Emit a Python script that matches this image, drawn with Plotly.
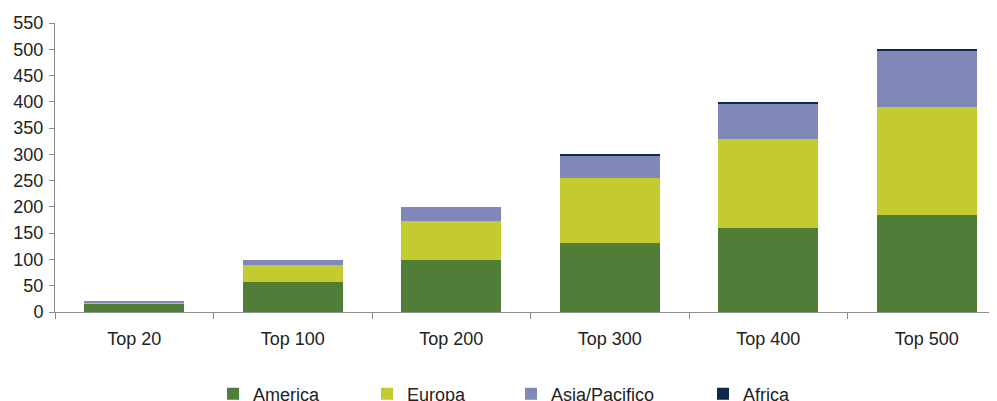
import plotly.graph_objects as go

categories = ["Top 20", "Top 100", "Top 200", "Top 300", "Top 400", "Top 500"]
america = [17, 57, 99, 131, 160, 185]
europa = [1, 32, 74, 124, 170, 205]
asia = [2, 10, 27, 43, 67, 106]
africa = [0, 0, 0, 2, 3, 4]
y_ticks = list(range(0, 551, 50))

series = [
    ("America", america, "#507D38"),
    ("Europa", europa, "#C3CB2F"),
    ("Asia/Pacifico", asia, "#8088BA"),
    ("Africa", africa, "#0E2A4A"),
]

# page body has an 8px margin; figure sized so the plot reaches the window's right edge
OFF = 8
W, H = 997 - OFF, 401 - OFF
legend_text_x = [250, 404, 548, 740]   # window pixels where legend texts start
legend_y = 394                           # window pixel of legend centre

fig = go.Figure()
for i, (name, vals, col) in enumerate(series):
    lg = "legend" if i == 0 else f"legend{i+1}"
    fig.add_trace(go.Bar(
        x=categories, y=vals, name=name, marker=dict(color=col, line=dict(width=0)),
        width=0.63, legend=lg,
    ))

font = dict(family="Liberation Sans, Arial, sans-serif", size=18, color="#222222")
layout_legends = {}
for i, tx in enumerate(legend_text_x):
    key = "legend" if i == 0 else f"legend{i+1}"
    layout_legends[key] = dict(
        x=(tx - 37 - OFF) / W, y=1 - (legend_y - OFF) / H, xref="container", yref="container",
        xanchor="left", yanchor="middle", orientation="h",
        font=font, bgcolor="rgba(0,0,0,0)", itemwidth=30,
    )

plot_w = 997 - 55
fig.update_layout(
    width=W, height=H,
    margin=dict(l=55 - OFF, r=0, t=23 - OFF, b=89, autoexpand=False),
    barmode="stack",
    plot_bgcolor="white", paper_bgcolor="white",
    font=font,
    showlegend=True,
    xaxis=dict(
        range=[-0.5, -0.5 + plot_w / 158.5],
        showgrid=False, zeroline=False,
        showline=True, linecolor="#8c8c8c", linewidth=1,
        ticks="outside", tickson="boundaries", ticklen=6, tickcolor="#8c8c8c",
        ticklabelstandoff=10,
        tickfont=font,
    ),
    yaxis=dict(
        range=[0, 550], tickvals=y_ticks,
        showgrid=False, zeroline=False,
        showline=True, linecolor="#8c8c8c", linewidth=1,
        ticks="outside", ticklen=5, tickcolor="#8c8c8c",
        ticklabelstandoff=2,
        tickfont=font,
    ),
    **layout_legends,
)

fig.write_html("out.html")
